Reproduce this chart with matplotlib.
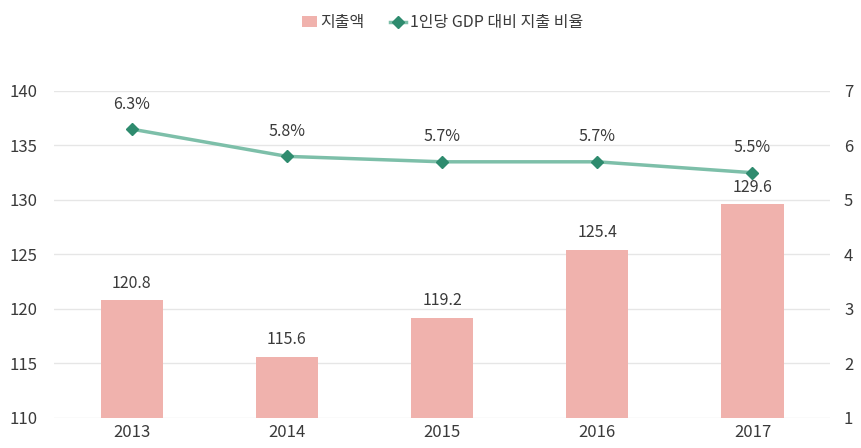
import matplotlib
matplotlib.use("Agg")
import matplotlib.pyplot as plt
from matplotlib.lines import Line2D
from matplotlib.patches import Patch

plt.rcParams['font.family'] = ['Noto Sans CJK KR', 'DejaVu Sans']
plt.rcParams['font.weight'] = 'light'

years = ['2013', '2014', '2015', '2016', '2017']
spending = [120.8, 115.6, 119.2, 125.4, 129.6]
ratio = [6.3, 5.8, 5.7, 5.7, 5.5]
left_ticks = [110, 115, 120, 125, 130, 135, 140]
right_ticks = [1, 2, 3, 4, 5, 6, 7]

bar_color = '#F0B2AD'
line_color = '#7DBFA9'
marker_color = '#2E8B6E'
text_color = '#3A3A3A'
grid_color = '#E6E6E6'

fig = plt.figure(figsize=(8.62, 4.48), dpi=100)
ax = fig.add_axes([0.0626, 0.067, 0.9004, 0.730])
x = list(range(len(years)))
ax.bar(x, [v - 110 for v in spending], bottom=110, width=0.4, color=bar_color, zorder=2)
ax.set_ylim(110, 140)
ax.set_xlim(-0.5, 4.5)
ax.set_yticks(left_ticks)
ax.set_xticks(x)
ax.set_xticklabels(years)
for s in ax.spines.values():
    s.set_visible(False)
ax.grid(axis='y', color=grid_color, linewidth=1, zorder=0)
ax.tick_params(length=0, labelsize=12, colors=text_color, pad=12)
ax.tick_params(axis='x', pad=4)
for xi, v in zip(x, spending):
    ax.text(xi, v + 0.8, f'{v:.1f}', ha='center', va='bottom', fontsize=11.5, color=text_color)

ax2 = ax.twinx()
ax2.set_ylim(1, 7)
ax2.set_yticks(right_ticks)
for s in ax2.spines.values():
    s.set_visible(False)
ax2.tick_params(length=0, labelsize=12, colors=text_color, pad=10)
ax2.plot(x, ratio, color=line_color, linewidth=2.5, zorder=3)
ax2.plot(x, ratio, linestyle='none', marker='D', markersize=6.5, color=marker_color, zorder=4)
for xi, v in zip(x, ratio):
    ax2.text(xi, v + 0.3, f'{v:.1f}%', ha='center', va='bottom', fontsize=11.5, color=text_color)

handles = [Patch(facecolor=bar_color, edgecolor='none'),
           Line2D([0], [0], color=line_color, linewidth=2.5, marker='D', markersize=6, markerfacecolor=marker_color, markeredgecolor=marker_color)]
fig.legend(handles, ['지출액', '1인당 GDP 대비 지출 비율'], loc='upper center', bbox_to_anchor=(0.513, 1.0),
           ncol=2, frameon=False, fontsize=11.5, labelcolor=text_color, handlelength=1.0,
           handletextpad=0.2, columnspacing=1.6)

fig.savefig('out.png', dpi=100)
